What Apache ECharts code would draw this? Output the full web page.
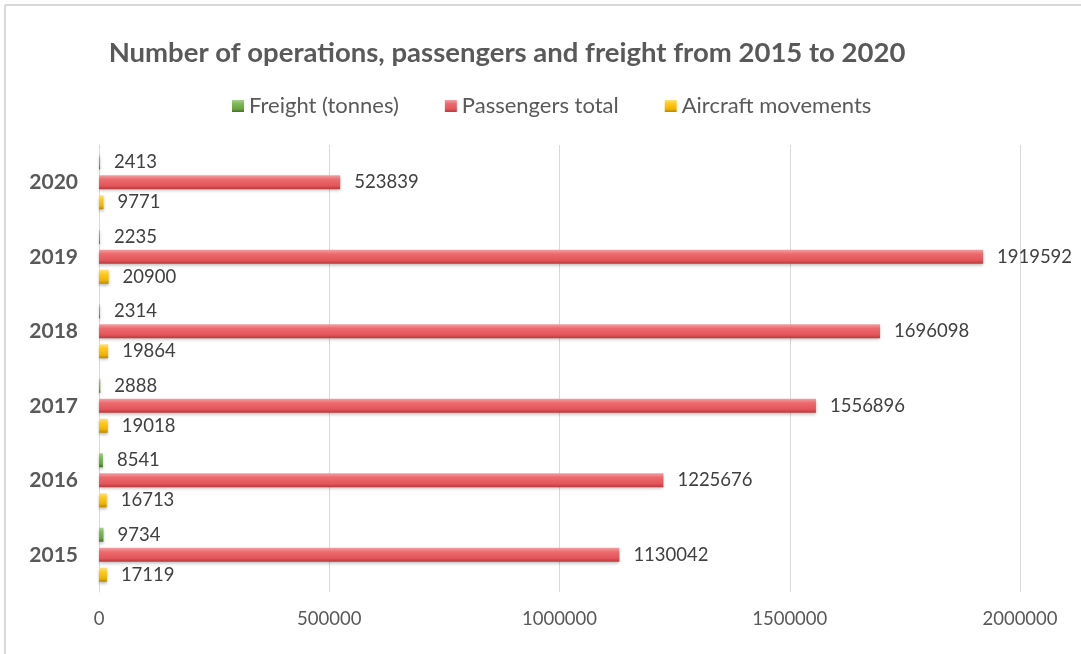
<!DOCTYPE html>
<html>
<head>
<meta charset="utf-8">
<script src="https://cdn.jsdelivr.net/npm/echarts@6/dist/echarts.min.js"></script>
<style>
  html, body { margin: 0; padding: 0; background: #fff; }
  #chart { width: 1081px; height: 654px; }
</style>
</head>
<body>
<div id="chart"></div>
<script>
  var years = ['2015', '2016', '2017', '2018', '2019', '2020'];
  var freight = [9734, 8541, 2888, 2314, 2235, 2413];
  var passengers = [1130042, 1225676, 1556896, 1696098, 1919592, 523839];
  var movements = [17119, 16713, 19018, 19864, 20900, 9771];
  var xTicks = [0, 500000, 1000000, 1500000, 2000000];

  var FONT = 'Lato, "Open Sans", sans-serif';

  function grad(c0, c1, c2, c3) {
    return new echarts.graphic.LinearGradient(0, 0, 0, 1, [
      { offset: 0, color: c0 },
      { offset: 0.3, color: c1 },
      { offset: 0.75, color: c2 },
      { offset: 1, color: c3 }
    ]);
  }

  function mkSeries(name, data, color) {
    return {
      name: name,
      type: 'bar',
      data: data,
      barWidth: 14,
      barGap: '43%',
      itemStyle: {
        color: color,
        shadowColor: 'rgba(0,0,0,0.25)',
        shadowBlur: 3,
        shadowOffsetY: 2
      },
      label: {
        show: true,
        position: 'right',
        distance: 14,
        color: '#404040',
        fontSize: 18.5,
        fontFamily: FONT
      }
    };
  }

  var chart = echarts.init(document.getElementById('chart'));
  var option = {
    animation: false,
    backgroundColor: '#fff',
    color: ['#70ad47', '#e85a5e', '#ffc000'],
    title: {
      text: 'Number of operations, passengers and freight from 2015 to 2020',
      left: 502,
      textAlign: 'center',
      top: 34,
      textStyle: { color: '#595959', fontSize: 27.5, fontWeight: 'bold', fontFamily: FONT }
    },
    legend: {
      top: 90,
      left: 227,
      itemWidth: 12,
      itemHeight: 12,
      itemGap: 46,
      icon: 'rect',
      textStyle: { color: '#595959', fontSize: 22, fontFamily: FONT },
      data: ['Freight (tonnes)', 'Passengers total', 'Aircraft movements']
    },
    grid: { left: 99, right: 61, top: 145, bottom: 62 },
    xAxis: {
      type: 'value',
      min: 0,
      max: 2000000,
      interval: 500000,
      axisLine: { show: false },
      axisTick: { show: false },
      splitLine: { lineStyle: { color: '#d9d9d9', width: 1 } },
      axisLabel: {
        color: '#595959',
        fontSize: 18.5,
        fontFamily: FONT,
        margin: 18,
        formatter: function (v) { return xTicks.indexOf(v) >= 0 ? String(v) : ''; }
      }
    },
    yAxis: {
      type: 'category',
      data: years,
      axisLine: { show: true, lineStyle: { color: '#d9d9d9' } },
      axisTick: { show: false },
      axisLabel: { color: '#595959', fontSize: 21, fontWeight: 'bold', fontFamily: FONT, margin: 21 }
    },
    series: [
      mkSeries('Freight (tonnes)', freight, grad('#a9d08e', '#80b95a', '#6aa43f', '#466f2a')),
      mkSeries('Passengers total', passengers, grad('#f3a0a2', '#ec6a6d', '#e4555a', '#b6393c')),
      mkSeries('Aircraft movements', movements, grad('#ffe07a', '#ffc91a', '#f0b400', '#b88800'))
    ],
    graphic: [
      { type: 'line', shape: { x1: 5, y1: 5, x2: 1081, y2: 5 }, style: { stroke: '#d9d9d9', lineWidth: 2 } },
      { type: 'line', shape: { x1: 5, y1: 5, x2: 5, y2: 654 }, style: { stroke: '#d9d9d9', lineWidth: 2 } }
    ]
  };
  chart.setOption(option);
</script>
</body>
</html>
